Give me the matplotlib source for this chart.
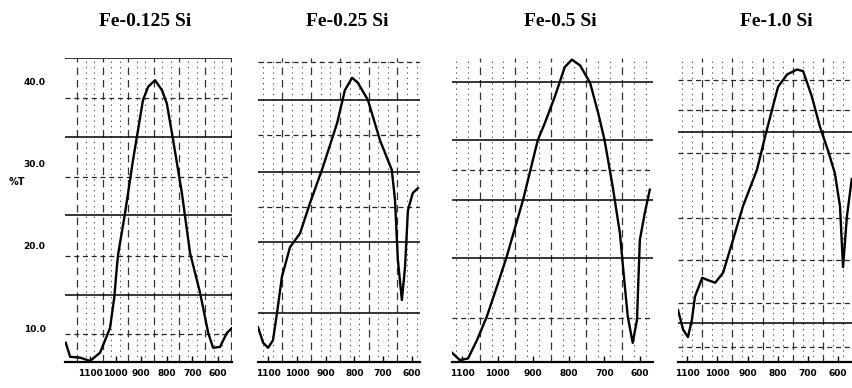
import matplotlib
matplotlib.use("Agg")
import matplotlib.pyplot as plt

# ---------------- data ----------------
titles = ["Fe-0.125 Si", "Fe-0.25 Si", "Fe-0.5 Si", "Fe-1.0 Si"]
x_ticks = [1100, 1000, 900, 800, 700, 600]
y_ticks = [10, 20, 30, 40]
y_ticklabels = ["10.0", "20.0", "30.0", "40.0"]

wn1 = [1195, 1178, 1139, 1100, 1061, 1022, 1005, 995, 990, 963, 932, 893, 873, 846,
       819, 800, 775, 741, 709, 670, 638, 619, 592, 565, 545]
t1 = [8.2, 6.5, 6.4, 6.0, 7.0, 10.0, 13.8, 17.5, 19.0, 24.0, 30.4, 37.7, 39.3, 40.1,
      38.9, 37.3, 32.8, 26.4, 19.1, 14.3, 9.4, 7.6, 7.7, 9.4, 10.0]

wn2 = [1135, 1117, 1100, 1083, 1069, 1052, 1024, 989, 954, 909, 860, 833, 808,
       788, 753, 711, 670, 659, 649, 635, 624, 614, 597, 579]
t2 = [10.1, 8.2, 7.6, 8.5, 11.8, 16.2, 19.8, 21.5, 25.2, 29.6, 34.9, 38.9, 40.4,
      39.8, 37.7, 32.8, 29.2, 25.6, 18.3, 13.4, 17.4, 24.3, 26.4, 27.0]

wn3 = [1128, 1106, 1083, 1058, 1030, 1002, 974, 928, 887, 867, 839, 811, 791,
       768, 740, 717, 699, 676, 656, 642, 634, 620, 608, 600, 586, 572]
t3 = [7.0, 6.1, 6.3, 8.5, 11.4, 15.0, 18.7, 25.6, 32.8, 34.9, 38.1, 41.7, 42.6,
      41.9, 39.8, 36.1, 32.8, 27.1, 21.5, 15.0, 11.4, 8.2, 11.0, 20.7, 24.0, 26.8]

wn4 = [1130, 1113, 1097, 1084, 1074, 1050, 1030, 1007, 981, 948, 915, 869, 836,
       799, 769, 736, 716, 687, 660, 634, 611, 594, 584, 571, 555]
t4 = [12.2, 9.8, 8.9, 11.0, 13.8, 16.1, 15.8, 15.5, 16.7, 20.7, 24.8, 29.2, 34.1,
      39.3, 40.8, 41.4, 41.2, 38.1, 34.4, 31.6, 28.8, 24.8, 17.4, 23.6, 28.1]

series = [(wn1, t1), (wn2, t2), (wn3, t3), (wn4, t4)]

# ---------------- layout / style ----------------
W, H = 853, 388
fig = plt.figure(figsize=(W / 100, H / 100), dpi=100)
fig.patch.set_facecolor("white")

panel_px = [(65, 232), (258, 420), (452, 653), (678, 853)]
panel_xlim = [(1198, 545), (1135, 572), (1128, 563), (1130, 551)]
title_x = [145, 347, 560, 776]
ylim = (5.87, 42.8)
top_px, bot_px = 58, 362

solid_lines = [[33.2, 23.7, 14.0, 42.8], [37.7, 29.0, 20.4, 11.8],
               [39.9, 32.8, 25.6, 18.5], [33.8, 10.6]]
dashed_lines = [[37.9, 28.3, 18.7, 9.3], [42.3, 33.5, 24.7],
                [29.2, 11.2], [40.1, 36.5, 31.3, 23.4, 18.3, 13.0, 7.7]]

for i, ((wn, t), (l, r), xl) in enumerate(zip(series, panel_px, panel_xlim)):
    ax = fig.add_axes([l / W, (H - bot_px) / H, (r - l) / W, (bot_px - top_px) / H])
    ax.set_xlim(*xl)
    ax.set_ylim(*ylim)
    for s in ["top", "right", "left"]:
        ax.spines[s].set_visible(False)
    ax.spines["bottom"].set_linewidth(1.6)

    # chart-paper grid
    v = 1150
    k = 0
    while v > 540:
        if xl[1] < v < xl[0]:
            if k % 3 == 0:
                ax.axvline(v, color="0.2", lw=0.9, ls=(0, (6, 4)), zorder=1)
            else:
                ax.axvline(v, color="0.35", lw=0.7, ls=(0, (1.5, 4)), zorder=1)
        v -= 33.3
        k += 1
    for y in solid_lines[i]:
        ax.axhline(y, color="black", lw=1.1, zorder=1)
    for y in dashed_lines[i]:
        ax.axhline(y, color="0.15", lw=0.9, ls=(0, (4, 3)), zorder=1)

    ax.plot(wn, t, color="black", lw=1.7, solid_joinstyle="round", zorder=3)

    ax.set_xticks(x_ticks)
    ax.set_xticklabels([str(x) for x in x_ticks], fontsize=6.5, fontweight="bold",
                       family="DejaVu Sans")
    ax.tick_params(axis="x", direction="in", length=4, width=1, pad=5)
    if i == 0:
        ax.set_yticks(y_ticks)
        ax.set_yticklabels(y_ticklabels, fontsize=6.5, fontweight="bold")
        ax.tick_params(axis="y", length=0, pad=14)
    else:
        ax.set_yticks([])

    fig.text(title_x[i] / W, 1 - 22 / H, titles[i], ha="center", va="center",
             fontsize=14, fontweight="bold", family="Liberation Serif")

fig.text(17 / W, 1 - 182 / H, "%T", ha="center", va="center",
         fontsize=7, fontweight="bold")

fig.savefig("out.png", dpi=100, facecolor="white")
